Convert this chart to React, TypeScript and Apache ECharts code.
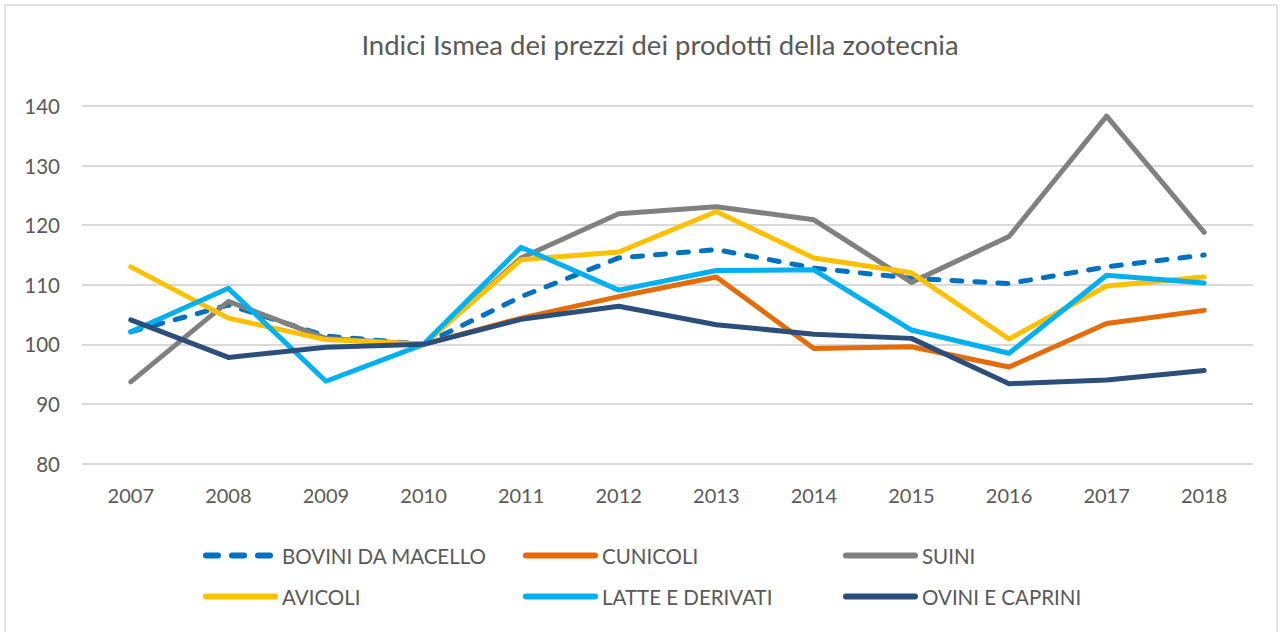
import React, { useEffect, useRef } from "react";
import * as echarts from "echarts";

const years = ["2007", "2008", "2009", "2010", "2011", "2012", "2013", "2014", "2015", "2016", "2017", "2018"];
const bovini = [102.1, 106.6, 101.4, 100, 108.0, 114.5, 115.9, 112.8, 111.1, 110.2, 113.0, 115.0];
const cunicoli = [null, null, null, 100, 104.4, 108.0, 111.3, 99.3, 99.6, 96.2, 103.5, 105.7];
const suini = [93.7, 107.2, 101.0, 100, 114.5, 121.9, 123.1, 120.9, 110.4, 118.1, 138.3, 118.8];
const avicoli = [113.0, 104.4, 100.8, 100, 114.2, 115.5, 122.3, 114.5, 112.0, 100.9, 109.8, 111.3];
const latte = [102.1, 109.4, 93.8, 100, 116.3, 109.1, 112.4, 112.5, 102.4, 98.5, 111.6, 110.3];
const ovini = [104.1, 97.8, 99.5, 100, 104.2, 106.4, 103.3, 101.7, 101.0, 93.4, 94.0, 95.6];

const seriesNames = ["BOVINI DA MACELLO", "CUNICOLI", "SUINI", "AVICOLI", "LATTE E DERIVATI", "OVINI E CAPRINI"];
const seriesColors = ["#0070C0", "#E46C0A", "#808080", "#FFC000", "#00B0F0", "#2C4E7A"];
const seriesData = [bovini, cunicoli, suini, avicoli, latte, ovini];

const FONT = "Lato";
const TXT = "#595959";

export default function App() {
  const ref = useRef<HTMLDivElement>(null);
  useEffect(() => {
    if (!ref.current) return;
    const chart = echarts.init(ref.current, null, { renderer: "svg" });
    const legendPos = [
      { left: 203, top: 545 },
      { left: 523, top: 545 },
      { left: 843, top: 545 },
      { left: 203, top: 586 },
      { left: 523, top: 586 },
      { left: 843, top: 586 },
    ];
    chart.setOption({
      animation: false,
      backgroundColor: "#ffffff",
      title: {
        text: "Indici Ismea dei prezzi dei prodotti della zootecnia",
        left: 655,
        top: 25,
        textAlign: "center",
        textStyle: { fontFamily: FONT, fontSize: 27.5, fontWeight: "normal", color: TXT },
      },
      graphic: [
        {
          type: "rect",
          shape: { x: 5, y: 5, width: 1272, height: 660 },
          style: { fill: "none", stroke: "#D9D9D9", lineWidth: 1.5 },
          silent: true,
        },
      ],
      legend: seriesNames.map((n, i) => ({
        data: [n],
        left: legendPos[i].left,
        top: legendPos[i].top,
        padding: 0,
        itemWidth: 69,
        itemHeight: 6,
        itemGap: 0,
        itemStyle: { opacity: 0 },
        lineStyle: {
          width: 6,
          cap: "round",
          type: i === 0 ? [12, 14] : "solid",
        },
        textStyle: { fontFamily: FONT, fontSize: 20.5, color: TXT, padding: [0, 0, 0, 2] },
        selectedMode: false,
      })),
      grid: { left: 82, right: 29, top: 106, bottom: 168.5, containLabel: false },
      xAxis: {
        type: "category",
        data: years,
        boundaryGap: true,
        axisLine: { show: false },
        axisTick: { show: false },
        axisLabel: { fontFamily: FONT, fontSize: 20, color: TXT, margin: 21 },
      },
      yAxis: {
        type: "value",
        min: 80,
        max: 140,
        interval: 10,
        axisLine: { show: false },
        axisTick: { show: false },
        axisLabel: { fontFamily: FONT, fontSize: 20.5, color: TXT, margin: 22 },
        splitLine: { lineStyle: { color: "#D9D9D9", width: 2 } },
      },
      series: seriesNames.map((n, i) => ({
        name: n,
        type: "line",
        data: seriesData[i],
        symbol: "none",
        showSymbol: false,
        connectNulls: false,
        color: seriesColors[i],
        lineStyle: {
          color: seriesColors[i],
          width: 5,
          cap: "round",
          join: "round",
          type: i === 0 ? [10, 13] : "solid",
        },
        z: 2 + i,
      })),
    });
    return () => chart.dispose();
  }, []);
  return (
    <div
      ref={ref}
      style={{ position: "fixed", left: 0, top: 0, width: 1282, height: 632 }}
    />
  );
}
